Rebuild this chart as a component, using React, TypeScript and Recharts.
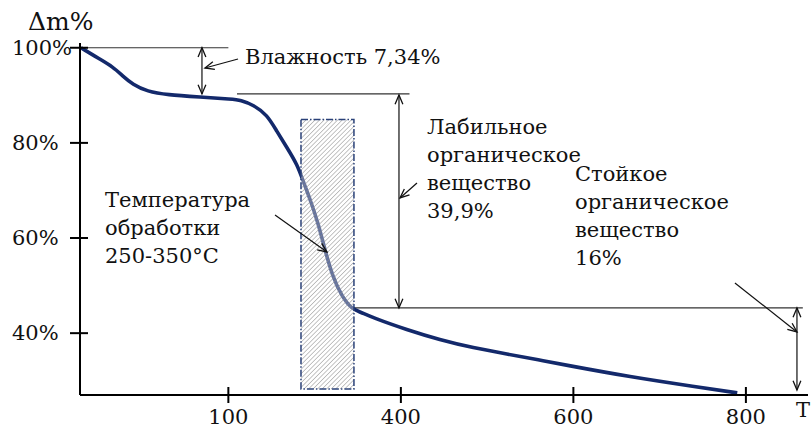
import React from 'react';
import { ComposedChart, Line, XAxis, YAxis, ReferenceLine, ReferenceArea, ReferenceDot } from 'recharts';

const temperature = [29, 51, 66, 78, 89, 106, 129, 167, 205, 214, 229, 245, 256, 268, 280, 287, 295, 304, 312, 321, 332, 343, 353, 368, 407, 445, 484, 523, 561, 588, 666, 743, 790];
const massPercent = [100, 97.6, 96.0, 94.0, 92.3, 90.8, 90.1, 89.65, 89.2, 89.0, 88.0, 85.9, 82.5, 79.0, 75.4, 71.8, 68.0, 63.2, 57.5, 51.8, 47.6, 45.1, 44.45, 43.2, 40.7, 38.6, 36.9, 35.6, 34.35, 33.4, 30.8, 28.7, 27.45];

const xTickValues = [200, 400, 600, 800];
const xTickLabels = ['100', '400', '600', '800'];
const yTickValues = [40, 60, 80, 100];

const data = temperature.map((t, i) => ({ t, m: massPercent[i] }));

const FONT = 'DejaVu Serif';
const INK = '#111';
const FS = 21;

const YTick = (p: any) => {
  const { x, y, payload } = p;
  return (
    <g>
      <line x1={x - 10} y1={y} x2={x + 8} y2={y} stroke="#000" strokeWidth={2} />
      <text x={x - 68} y={y} dy={7} fontSize={FS} fill={INK} textAnchor="start" fontFamily={FONT}>
        {payload.value}%
      </text>
    </g>
  );
};

const XTick = (p: any) => {
  const { x, y, payload } = p;
  const idx = xTickValues.indexOf(payload.value);
  return (
    <g>
      <line x1={x} y1={y - 8} x2={x} y2={y + 8} stroke="#000" strokeWidth={2} />
      <text x={x} y={y + 29} fontSize={FS} fill={INK} textAnchor="middle" fontFamily={FONT}>
        {idx >= 0 ? xTickLabels[idx] : payload.value}
      </text>
    </g>
  );
};

const head = (tx: number, ty: number, fx: number, fy: number) => {
  const a = Math.atan2(ty - fy, tx - fx);
  const L = 10;
  const w = 0.4;
  const pts = `${tx - L * Math.cos(a - w)},${ty - L * Math.sin(a - w)} ${tx},${ty} ${tx - L * Math.cos(a + w)},${ty - L * Math.sin(a + w)}`;
  return <polyline points={pts} fill="none" stroke={INK} strokeWidth={1.3} />;
};

const arrowShape = (start: boolean, end: boolean) => (p: any) => {
  const { x1, y1, x2, y2 } = p;
  return (
    <g>
      <line x1={x1} y1={y1} x2={x2} y2={y2} stroke={INK} strokeWidth={1.2} />
      {end && head(x2, y2, x1, y1)}
      {start && head(x1, y1, x2, y2)}
    </g>
  );
};

const textShape = (lines: string[], size = FS, lh = 28) => (p: any) => (
  <text x={p.cx} y={p.cy} fontSize={size} fill={INK} fontFamily={FONT}>
    {lines.map((l, i) => (
      <tspan key={i} x={p.cx} dy={i === 0 ? 0 : lh}>
        {l}
      </tspan>
    ))}
  </text>
);

const hatchShape = (p: any) => {
  const { x, y, width, height } = p;
  return (
    <g>
      <defs>
        <pattern id="hatchPat" patternUnits="userSpaceOnUse" width="3.2" height="3.2" patternTransform="rotate(45)">
          <line x1="0" y1="0" x2="0" y2="3.2" stroke="#8a8a8a" strokeWidth="1" />
        </pattern>
      </defs>
      <rect x={x} y={y} width={width} height={height} fill="#ffffff" fillOpacity={0.35} />
      <rect x={x} y={y} width={width} height={height} fill="url(#hatchPat)" stroke="#2a4178" strokeWidth={1.5} strokeDasharray="7 2 1.5 2" />
    </g>
  );
};

const plainLine = (p: any) => <line x1={p.x1} y1={p.y1} x2={p.x2} y2={p.y2} stroke="#333" strokeWidth={1.2} />;

export default function App() {
  return (
    <div style={{ position: 'absolute', left: 0, top: 0, width: 811, height: 430, background: '#fff' }}>
      <ComposedChart
        width={811}
        height={430}
        data={data}
        margin={{ top: 43, right: 3, bottom: 5, left: 0 }}
      >
        <XAxis
          dataKey="t"
          type="number"
          domain={[28, 872]}
          allowDataOverflow
          ticks={xTickValues}
          tick={<XTick />}
          tickLine={false}
          tickSize={0}
          tickMargin={0}
          height={30}
          axisLine={{ stroke: '#000', strokeWidth: 2 }}
          interval={0}
        />
        <YAxis
          type="number"
          domain={[27, 101]}
          allowDataOverflow
          ticks={yTickValues}
          tick={<YTick />}
          tickLine={false}
          tickSize={0}
          tickMargin={0}
          width={80}
          axisLine={{ stroke: '#000', strokeWidth: 2 }}
          interval={0}
        />

        <ReferenceLine segment={[{ x: 28, y: 100 }, { x: 200, y: 100 }]} ifOverflow="visible" shape={plainLine} />
        <ReferenceLine segment={[{ x: 210, y: 90.3 }, { x: 410, y: 90.3 }]} ifOverflow="visible" shape={plainLine} />
        <ReferenceLine segment={[{ x: 344.5, y: 45.3 }, { x: 866, y: 45.3 }]} ifOverflow="visible" shape={plainLine} />

        <Line dataKey="m" type="basis" stroke="#13296b" strokeWidth={3.6} dot={false} isAnimationActive={false} />

        <ReferenceArea x1={284.2} x2={345.6} y1={28.27} y2={84.92} ifOverflow="visible" shape={hatchShape} zIndex={900} />

        <ReferenceLine segment={[{ x: 169.4, y: 100 }, { x: 169.4, y: 90.3 }]} ifOverflow="visible" shape={arrowShape(true, true)} />
        <ReferenceLine segment={[{ x: 211.2, y: 97.64 }, { x: 172.9, y: 95.75 }]} ifOverflow="visible" shape={arrowShape(false, true)} />

        <ReferenceLine segment={[{ x: 397.8, y: 90.07 }, { x: 397.8, y: 45.3 }]} ifOverflow="visible" shape={arrowShape(true, true)} />
        <ReferenceLine segment={[{ x: 418.7, y: 71.57 }, { x: 399, y: 68.42 }]} ifOverflow="visible" shape={arrowShape(false, true)} />

        <ReferenceLine segment={[{ x: 859.2, y: 45.3 }, { x: 859.2, y: 28.05 }]} ifOverflow="visible" shape={arrowShape(true, true)} />
        <ReferenceLine segment={[{ x: 787.3, y: 50.55 }, { x: 859.2, y: 40.25 }]} ifOverflow="visible" shape={arrowShape(false, true)} />

        <ReferenceLine segment={[{ x: 254.1, y: 64.84 }, { x: 314.3, y: 57.07 }]} ifOverflow="visible" shape={arrowShape(false, true)} zIndex={1000} />

        <ReferenceDot x={-32.3} y={103.7} r={0} ifOverflow="visible" shape={textShape(['Δm%'], 25)} />
        <ReferenceDot x={858.1} y={22.38} r={0} ifOverflow="visible" shape={textShape(['T'], FS)} />
        <ReferenceDot x={219.3} y={96.59} r={0} ifOverflow="visible" shape={textShape(['Влажность 7,34%'])} />
        <ReferenceDot x={430.3} y={81.87} r={0} ifOverflow="visible" shape={textShape(['Лабильное', 'органическое', 'вещество', '39,9%'])} />
        <ReferenceDot x={601.9} y={71.99} r={0} ifOverflow="visible" shape={textShape(['Стойкое', 'органическое', 'вещество', '16%'])} />
        <ReferenceDot x={57} y={66.52} r={0} ifOverflow="visible" shape={textShape(['Температура', 'обработки', '250-350°C'])} />
      </ComposedChart>
    </div>
  );
}
